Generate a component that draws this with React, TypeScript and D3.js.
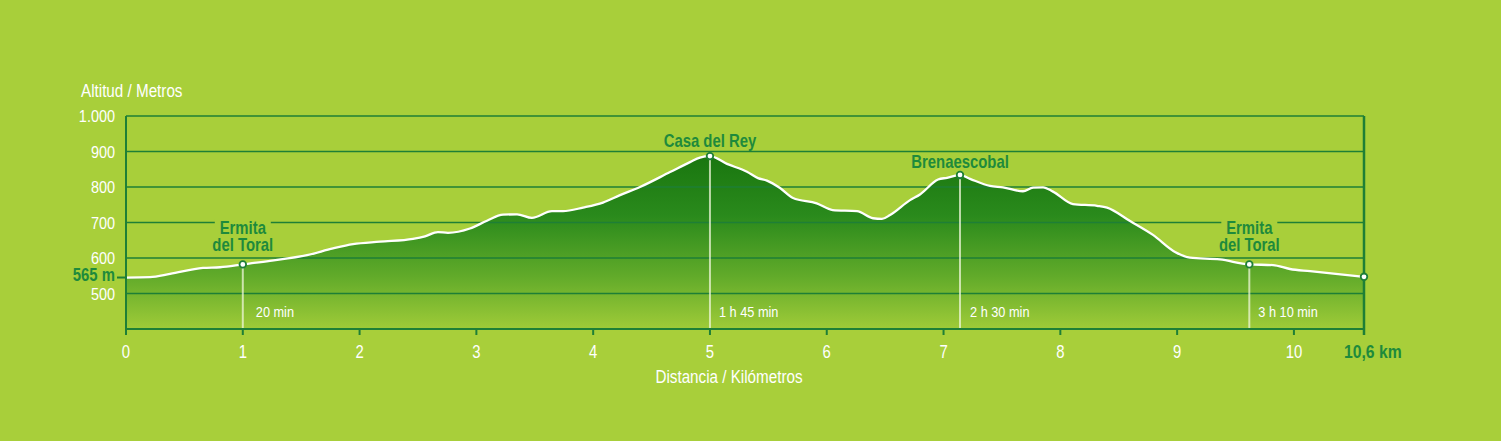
import React, { useEffect } from "react";
import * as d3 from "d3";

// Profile: distance (km) and altitude (m)
const distances = [0, 0.205, 0.377, 0.659, 0.805, 1.0, 1.233, 1.55, 1.772, 1.944, 2.175, 2.457, 2.56, 2.671, 2.757, 2.945, 3.091, 3.228, 3.348, 3.476, 3.647, 3.742, 3.913, 4.084, 4.23, 4.401, 4.658, 4.829, 4.914, 5.0, 5.146, 5.317, 5.411, 5.488, 5.6, 5.711, 5.914, 6.051, 6.259, 6.396, 6.473, 6.542, 6.713, 6.798, 6.953, 7.03, 7.141, 7.227, 7.398, 7.509, 7.68, 7.766, 7.852, 7.937, 8.108, 8.314, 8.4, 8.597, 8.793, 8.982, 9.11, 9.367, 9.618, 9.821, 9.966, 10.138, 10.6];
const altitudes = [545, 546, 555, 572, 574, 582, 592, 608, 627, 639, 646, 654, 661, 673, 671, 683, 705, 722, 723, 713, 732, 732, 742, 756, 777, 800, 842, 870, 883, 887, 865, 843, 825, 818, 797, 769, 754, 735, 732, 712, 710, 721, 763, 779, 821, 826, 834, 823, 803, 799, 788, 798, 799, 787, 752, 747, 742, 704, 665, 617, 601, 596, 582, 580, 569, 563, 547];

const yTicks = [500, 600, 700, 800, 900, 1000];
const yTickLabels = ["500", "600", "700", "800", "900", "1.000"];
const xTicks = [0, 1, 2, 3, 4, 5, 6, 7, 8, 9, 10];
const xEnd = 10.6;
const xEndLabel = "10,6 km";
const startLabel = "565 m";

const stopKm = [1.0, 5.0, 7.141, 9.618];
const stopAlt = [582, 887, 834, 582];
const stopNames = [["Ermita", "del Toral"], ["Casa del Rey"], ["Brenaescobal"], ["Ermita", "del Toral"]];
const stopTimes = ["20 min", "1 h 45 min", "2 h 30 min", "3 h 10 min"];
const labelOffsets = [-13, -9, -7, -13];
const timeOffsets = [13, 9, 10, 9];

const W = 1501;
const H = 441;
const BG = "#a8cf3a";
const DARK = "#1e7f36";
const TEXTG = "#1e8a3c";
const FONT = "'Liberation Sans', Arial, sans-serif";
const SX = 0.85;

function T(props: { x: number; y: number; size: number; fill: string; bold?: boolean; anchor?: string; sx?: number; children: React.ReactNode }) {
  const { x, y, size, fill, bold, anchor, sx, children } = props;
  return (
    <text
      transform={`translate(${x},${y}) scale(${sx || SX},1)`}
      fontSize={size}
      fill={fill}
      fontWeight={bold ? "bold" : "normal"}
      textAnchor={anchor || "start"}
    >
      {children}
    </text>
  );
}

export default function App() {
  useEffect(() => {
    document.body.style.margin = "0";
  }, []);

  const x = d3.scaleLinear().domain([0, xEnd]).range([126, 1364]);
  const y = d3.scaleLinear().domain([400, 1000]).range([329, 116]);

  const pts = distances.map((d, i) => [d, altitudes[i]] as [number, number]);
  const line = d3.line<[number, number]>().x(d => x(d[0])).y(d => y(d[1])).curve(d3.curveMonotoneX);
  const area = d3.area<[number, number]>().x(d => x(d[0])).y0(y(400)).y1(d => y(d[1])).curve(d3.curveMonotoneX);

  const x0 = x(0), x1 = x(xEnd), yb = y(400), yt = y(1000);

  return (
    <svg width={W} height={H} style={{ display: "block" }} fontFamily={FONT}>
      <defs>
        <linearGradient id="fillG" gradientUnits="userSpaceOnUse" x1="0" y1={y(890)} x2="0" y2={yb}>
          <stop offset="0" stopColor="#19760f" />
          <stop offset="0.35" stopColor="#2a8a1c" />
          <stop offset="0.7" stopColor="#62ab2a" />
          <stop offset="1" stopColor="#9fcb38" />
        </linearGradient>
      </defs>
      <rect x={0} y={0} width={W} height={H} fill={BG} />
      <path d={area(pts) || ""} fill="url(#fillG)" />
      {/* grid */}
      {yTicks.map(t => (
        <line key={t} x1={x0} x2={x1} y1={y(t)} y2={y(t)} stroke={DARK} strokeWidth={1.3} />
      ))}
      {/* gaps in grid behind Ermita labels */}
      {stopNames.map((n, i) => n.length === 2 ? (
        <rect key={i} x={x(stopKm[i]) - 28} y={y(700) - 3} width={56} height={6} fill={BG} />
      ) : null)}
      {/* vertical stop lines */}
      {stopKm.map((k, i) => (
        <line key={i} x1={x(k)} x2={x(k)} y1={y(stopAlt[i])} y2={yb} stroke="#eef5d8" strokeOpacity={0.75} strokeWidth={2} />
      ))}
      <path d={line(pts) || ""} fill="none" stroke="#ffffff" strokeWidth={2.3} />
      {/* axes */}
      <line x1={x0} x2={x0} y1={yt} y2={yb + 1} stroke={DARK} strokeWidth={2} />
      <line x1={x1} x2={x1} y1={yt} y2={yb + 6} stroke={DARK} strokeWidth={2.5} />
      <line x1={x0 - 1} x2={x1} y1={yb} y2={yb} stroke={DARK} strokeWidth={2.2} />
      {xTicks.map(t => (
        <line key={t} x1={x(t)} x2={x(t)} y1={yb} y2={yb + 6} stroke={DARK} strokeWidth={2} />
      ))}
      {/* start tick */}
      <line x1={x0 - 9} x2={x0} y1={y(altitudes[0])} y2={y(altitudes[0])} stroke={DARK} strokeWidth={2} />
      {/* y labels */}
      {yTicks.map((t, i) => (
        <T key={t} x={115} y={y(t) + 6} anchor="end" fill="#ffffff" size={17}>{yTickLabels[i]}</T>
      ))}
      <T x={115} y={y(altitudes[0]) + 3.5} anchor="end" fill={TEXTG} size={17.5} bold>{startLabel}</T>
      <T x={81} y={97} fill="#ffffff" size={17.5} sx={0.87}>Altitud / Metros</T>
      {/* x labels */}
      {xTicks.map(t => (
        <T key={t} x={x(t)} y={358} anchor="middle" fill="#ffffff" size={17.5}>{String(t)}</T>
      ))}
      <T x={x1 - 20} y={358} fill={TEXTG} size={18.5} bold>{xEndLabel}</T>
      <T x={729} y={383} anchor="middle" fill="#ffffff" size={17.5} sx={0.87}>Distancia / Kilómetros</T>
      {/* stop labels */}
      {stopKm.map((k, i) => {
        const names = stopNames[i];
        const baseY = y(stopAlt[i]) + labelOffsets[i];
        return (
          <g key={i}>
            {names.map((n, j) => (
              <T key={j} x={x(k)} y={baseY - (names.length - 1 - j) * 17} anchor="middle" fill={TEXTG} size={17.5} bold>{n}</T>
            ))}
            <T x={x(k) + timeOffsets[i]} y={317} fill="#ffffff" size={15}>{stopTimes[i]}</T>
          </g>
        );
      })}
      {/* markers */}
      {[...stopKm, xEnd].map((k, i) => {
        const a = i < stopAlt.length ? stopAlt[i] : altitudes[altitudes.length - 1];
        return <circle key={i} cx={x(k)} cy={y(a)} r={3.3} fill="#ffffff" stroke={DARK} strokeWidth={1.8} />;
      })}
    </svg>
  );
}
